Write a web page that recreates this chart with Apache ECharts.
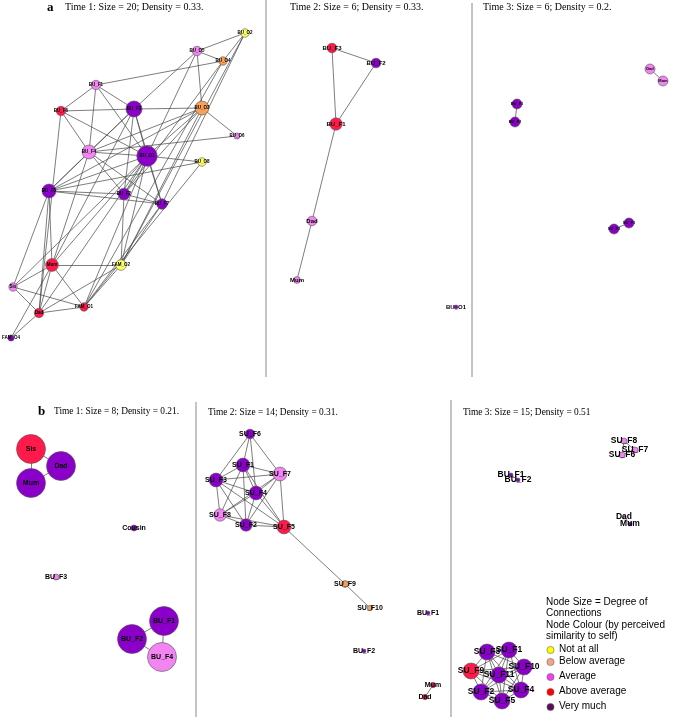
<!DOCTYPE html>
<html>
<head>
<meta charset="utf-8">
<script src="https://cdn.jsdelivr.net/npm/echarts@6/dist/echarts.min.js"></script>
<style>html,body{margin:0;padding:0;background:#fff;}#chart{width:677px;height:723px;}</style>
</head>
<body>
<div id="chart"></div>
<script>
// Colour levels: perceived similarity to self
const colourLevels = ['Not at all', 'Below average', 'Average', 'Above average', 'Very much'];
const nodeColours = ['#FFFF66', '#F7A05A', '#F285F2', '#FF1A4B', '#8A00C8'];
const legendColours = ['#FFFF00', '#F4A582', '#F040F0', '#FF0000', '#5C0A5C'];

// Nodes: [name, layoutX, layoutY, colourLevel, degree]
const a1Nodes = [
  ['BU_O2',245,33,0,4], ['BU_O5',197,51,2,5], ['BU_O4',223,61,1,4], ['BU_F1',96,85,2,5],
  ['BU_F6',61,111,3,5], ['BU_F3',134,109,4,11], ['BU_O3',202,108,1,9], ['BU_O6',237,136,2,2],
  ['BU_F4',89,152,2,9], ['BU_O1',147,156,4,15], ['BU_O8',202,162,0,4], ['BU_F5',49,191,4,9],
  ['BU_F2',124,194,4,7], ['BU_F7',162,204,4,6], ['Mum',52,265,3,8], ['FAM_O2',121,265,0,6],
  ['Sis',13,287,2,4], ['FAM_O1',84,307,3,4], ['Dad',39,313,3,5], ['FAM_O4',11,338,4,2]
];
const a1Links = [
  ['BU_O2','BU_O5'],['BU_O2','BU_O4'],['BU_O2','BU_F7'],['BU_O2','FAM_O2'],
  ['BU_O5','BU_O4'],['BU_O5','BU_F3'],['BU_O5','BU_O3'],['BU_O5','BU_O1'],
  ['BU_O4','BU_F1'],['BU_O4','BU_F2'],['BU_O4','FAM_O1'],
  ['BU_F1','BU_F6'],['BU_F1','BU_F3'],['BU_F1','BU_F4'],['BU_F1','BU_O1'],
  ['BU_F6','BU_F3'],['BU_F6','BU_F4'],['BU_F6','BU_O1'],['BU_F6','Dad'],
  ['BU_F3','BU_O3'],['BU_F3','BU_O1'],['BU_F3','BU_F5'],['BU_F3','BU_F2'],['BU_F3','BU_F7'],['BU_F3','Mum'],['BU_F3','BU_F4'],
  ['BU_O3','BU_O6'],['BU_O3','BU_F4'],['BU_O3','BU_O1'],['BU_O3','BU_F5'],['BU_O3','BU_F2'],['BU_O3','FAM_O2'],
  ['BU_O6','BU_F4'],
  ['BU_F4','BU_O1'],['BU_F4','BU_F5'],['BU_F4','BU_F2'],['BU_F4','BU_F7'],['BU_F4','Mum'],
  ['BU_O1','BU_O8'],['BU_O1','BU_F5'],['BU_O1','BU_F2'],['BU_O1','BU_F7'],['BU_O1','Mum'],['BU_O1','FAM_O2'],['BU_O1','FAM_O1'],['BU_O1','Dad'],['BU_O1','Sis'],
  ['BU_O8','BU_F5'],['BU_O8','FAM_O1'],
  ['BU_F5','BU_F2'],['BU_F5','BU_F7'],['BU_F5','Mum'],['BU_F5','Sis'],['BU_F5','Dad'],
  ['BU_F2','BU_F7'],['BU_F2','FAM_O2'],
  ['BU_F7','FAM_O2'],['BU_F7','FAM_O1'],
  ['Mum','FAM_O2'],['Mum','Sis'],['Mum','FAM_O1'],['Mum','Dad'],['Mum','FAM_O4'],
  ['FAM_O2','Dad'],['FAM_O2','FAM_O1'],
  ['Sis','FAM_O1'],['Sis','Dad'],
  ['FAM_O1','Dad'],
  ['Dad','FAM_O4']
];

const a2Nodes = [
  ['BU_F3',332,48,3,2], ['BU_F2',376,63,4,2], ['BU_F1',336,124,3,3],
  ['Dad',312,221,2,2], ['Mum',297,280,2,1], ['BU_O1',456,307,4,0]
];
const a2Links = [['BU_F3','BU_F2'],['BU_F3','BU_F1'],['BU_F2','BU_F1'],['BU_F1','Dad'],['Dad','Mum']];

const a3Nodes = [
  ['Dad',650,69,2,1], ['Mum',663,81,2,1], ['BU_F1',517,104,4,1], ['BU_F2',515,122,4,1],
  ['SU_F1',629,223,4,1], ['SU_F2',614,229,4,1]
];
const a3Links = [['Dad','Mum'],['BU_F1','BU_F2'],['SU_F1','SU_F2']];

const b1Nodes = [
  ['Sis',31,449,3,2], ['Dad',61,466,4,2], ['Mum',31,483,4,2], ['Cousin',134,528,4,0],
  ['BU_F3',56,577,2,0], ['BU_F1',164,621,4,2], ['BU_F2',132,639,4,2], ['BU_F4',162,657,2,2]
];
const b1Links = [['Sis','Dad'],['Sis','Mum'],['Dad','Mum'],['BU_F1','BU_F2'],['BU_F1','BU_F4'],['BU_F2','BU_F4']];

const b2Nodes = [
  ['SU_F6',250,434,4,4], ['SU_F1',243,465,4,7], ['SU_F7',280,474,2,7], ['SU_F3',216,480,4,7],
  ['SU_F4',256,493,4,7], ['SU_F8',220,515,2,6], ['SU_F2',246,525,4,6], ['SU_F5',284,527,3,7],
  ['SU_F9',345,584,1,2], ['SU_F10',370,608,1,1], ['BU_F1',428,613,4,0], ['BU_F2',364,651,4,0],
  ['Mum',433,685,3,1], ['Dad',425,697,3,1]
];
const b2Links = [
  ['SU_F6','SU_F1'],['SU_F6','SU_F7'],['SU_F6','SU_F3'],['SU_F6','SU_F4'],
  ['SU_F1','SU_F7'],['SU_F1','SU_F3'],['SU_F1','SU_F4'],['SU_F1','SU_F8'],['SU_F1','SU_F2'],['SU_F1','SU_F5'],
  ['SU_F7','SU_F3'],['SU_F7','SU_F4'],['SU_F7','SU_F8'],['SU_F7','SU_F2'],['SU_F7','SU_F5'],
  ['SU_F3','SU_F4'],['SU_F3','SU_F8'],['SU_F3','SU_F2'],['SU_F3','SU_F5'],
  ['SU_F4','SU_F8'],['SU_F4','SU_F2'],['SU_F4','SU_F5'],
  ['SU_F8','SU_F2'],['SU_F8','SU_F5'],
  ['SU_F2','SU_F5'],
  ['SU_F5','SU_F9'],['SU_F9','SU_F10'],['Mum','Dad']
];

const b3Nodes = [
  ['SU_F8',624,441,2,2], ['SU_F7',635,450,2,2], ['SU_F6',622,455,2,2],
  ['BU_F1',511,475,4,1], ['BU_F2',518,480,4,1], ['Dad',624,517,2,1], ['Mum',630,524,4,1],
  ['SU_F3',487,652,4,7], ['SU_F1',509,650,4,7], ['SU_F10',524,667,4,7], ['SU_F9',471,671,3,7],
  ['SU_F11',499,675,4,7], ['SU_F4',521,690,4,7], ['SU_F2',481,692,4,7], ['SU_F5',502,701,4,7]
];
const b3Cluster = ['SU_F3','SU_F1','SU_F10','SU_F9','SU_F11','SU_F4','SU_F2','SU_F5'];
const b3Links = [['SU_F8','SU_F7'],['SU_F8','SU_F6'],['SU_F7','SU_F6'],['BU_F1','BU_F2'],['Dad','Mum']];
for (let i = 0; i < b3Cluster.length; i++)
  for (let j = i + 1; j < b3Cluster.length; j++) b3Links.push([b3Cluster[i], b3Cluster[j]]);

const panelTitles = [
  'Time 1: Size = 20; Density = 0.33.', 'Time 2: Size = 6; Density = 0.33.', 'Time 3: Size = 6; Density = 0.2.',
  'Time 1: Size = 8; Density = 0.21.', 'Time 2: Size = 14; Density = 0.31.', 'Time 3: Size = 15; Density = 0.51'
];
const legendHeading = ['Node Size = Degree of', 'Connections', 'Node Colour (by perceived', 'similarity to self)'];

// ---------- build ----------
const panels = [
  {nodes: a1Nodes, links: a1Links, font: 4.5, r0: 2, k: 0.55},
  {nodes: a2Nodes, links: a2Links, font: 6, r0: 2, k: 1.4},
  {nodes: a3Nodes, links: a3Links, font: 4, r0: 2, k: 3},
  {nodes: b1Nodes, links: b1Links, font: 7, r0: 3, k: 5.75},
  {nodes: b2Nodes, links: b2Links, font: 7, r0: 2, k: 0.7},
  {nodes: b3Nodes, links: b3Links, font: 8.5, r0: 1, k: 1}
];

const series = panels.map(p => ({
  type: 'graph',
  layout: 'none',
  coordinateSystem: 'cartesian2d',
  xAxisIndex: 0, yAxisIndex: 0,
  silent: true,
  animation: false,
  data: p.nodes.map(n => ({
    name: n[0],
    value: [n[1], n[2]],
    symbolSize: 2 * (p.r0 + p.k * n[4]),
    itemStyle: {color: nodeColours[n[3]], borderColor: '#555', borderWidth: 0.6}
  })),
  links: p.links.map(l => ({source: l[0], target: l[1]})),
  label: {show: true, position: 'inside', fontSize: p.font, fontWeight: 'bold',
          color: '#000', fontFamily: 'Liberation Sans, Arial, sans-serif'},
  lineStyle: {color: '#454545', width: 0.7, opacity: 1, curveness: 0},
  emphasis: {disabled: true}
}));

const serif = 'Liberation Serif, Times New Roman, serif';
const sans = 'Liberation Sans, Arial, sans-serif';
const graphics = [];
const titlePos = [[65,8],[290,8],[483,8],[54,413],[208,414],[463,414]];
const titleFont = [10, 10, 10, 9.4, 9.4, 9.4];
panelTitles.forEach((t, i) => graphics.push({
  type: 'text', left: titlePos[i][0], top: titlePos[i][1] - 6,
  style: {text: t, font: titleFont[i] + 'px ' + serif, fill: '#000'}
}));
graphics.push({type: 'text', left: 47, top: 1, style: {text: 'a', font: 'bold 13px ' + serif, fill: '#000'}});
graphics.push({type: 'text', left: 38, top: 405, style: {text: 'b', font: 'bold 13px ' + serif, fill: '#000'}});
// separators
[[266,0,266,377],[472,3,472,377],[196,402,196,717],[451,400,451,717]].forEach(s => graphics.push({
  type: 'line', shape: {x1: s[0], y1: s[1], x2: s[2], y2: s[3]}, style: {stroke: '#888', lineWidth: 1}
}));
// legend
legendHeading.forEach((t, i) => graphics.push({
  type: 'text', left: 546, top: 597 + i * 11.5, style: {text: t, font: '10px ' + sans, fill: '#000'}
}));
const legendY = [650, 662, 677, 692, 707];
colourLevels.forEach((c, i) => {
  graphics.push({type: 'circle', shape: {cx: 550.5, cy: legendY[i], r: 3.6},
    style: {fill: legendColours[i], stroke: '#666', lineWidth: 0.6}});
  graphics.push({type: 'text', left: 559, top: legendY[i] - 6, style: {text: c, font: '10px ' + sans, fill: '#000'}});
});

const chart = echarts.init(document.getElementById('chart'), null, {renderer: 'canvas'});
chart.setOption({
  animation: false,
  backgroundColor: '#fff',
  grid: {left: 0, top: 0, width: 677, height: 723},
  xAxis: {type: 'value', min: 0, max: 677, show: false},
  yAxis: {type: 'value', min: 0, max: 723, inverse: true, show: false},
  series: series,
  graphic: graphics
});
</script>
</body>
</html>
